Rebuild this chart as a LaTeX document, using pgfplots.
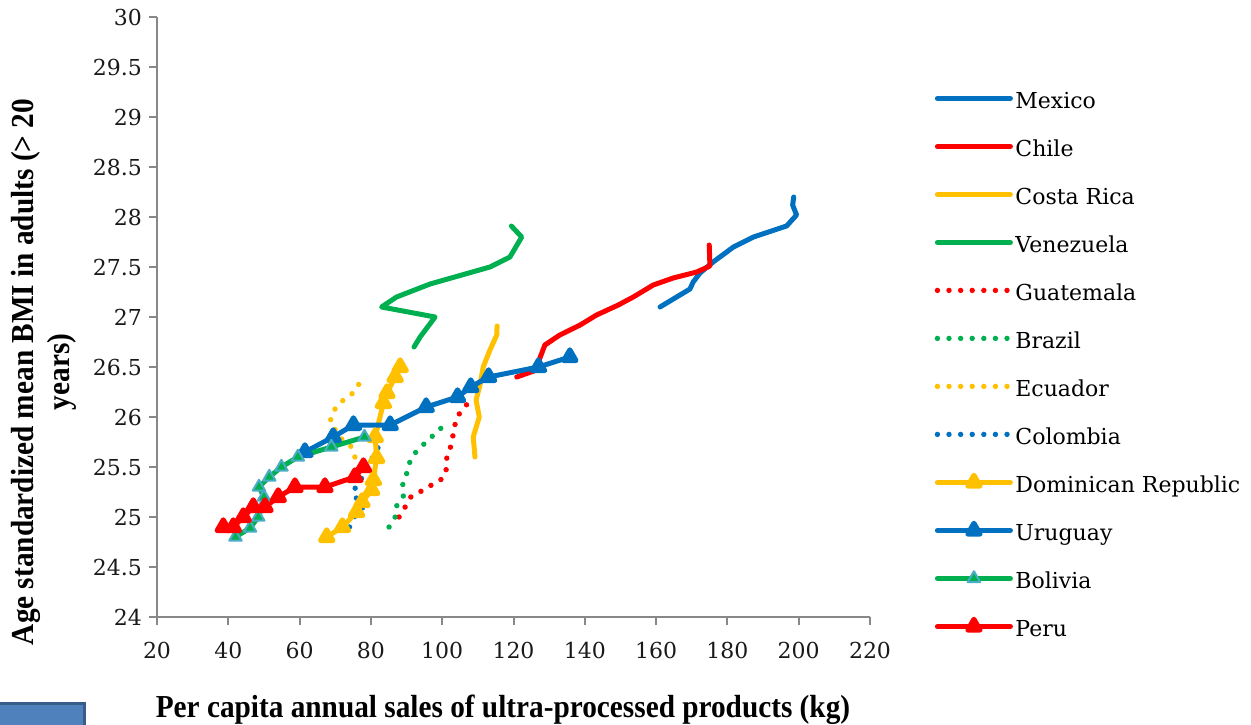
\documentclass[border=0pt]{standalone}
\usepackage{pgfplots}
\pgfplotsset{compat=1.18}
\usepackage{fontspec}
\setmainfont{DejaVu Serif}
\newfontfamily\labfont{Liberation Serif}[FakeStretch=0.915]
\definecolor{cblue}{HTML}{0070C0}
\definecolor{cred}{HTML}{FF0000}
\definecolor{cyel}{HTML}{FFC000}
\definecolor{cgreen}{HTML}{00B050}
\definecolor{cteal}{HTML}{4BACC6}
\definecolor{axgray}{HTML}{888888}
\definecolor{boxfill}{HTML}{4F81BD}
\definecolor{boxdraw}{HTML}{385D8A}
\pgfplotsset{
  solidline/.style={line width=2.5pt, line join=round, line cap=round, mark=none},
  dotline/.style={line width=2.7pt, line cap=round, dash pattern=on 0pt off 5.8pt, mark=none},
  triline/.style={line width=2.5pt, line join=round, line cap=round, mark=triangle*, mark size=3.6pt, mark options={solid, line width=0.4pt}},
}
\begin{document}
\begin{tikzpicture}
\useasboundingbox (-78.5pt,-53.5pt) rectangle (547pt,308.5pt);
\fill[boxfill] (-80pt,-56pt) rectangle (-36.5pt,-43pt);
\draw[boxdraw, line width=1.5pt] (-80pt,-43pt) -- (-36.5pt,-43pt) -- (-36.5pt,-56pt);
\begin{axis}[
  at={(0pt,0pt)}, anchor=south west,
  scale only axis, width=356.5pt, height=300pt,
  xmin=20, xmax=220, ymin=24, ymax=30,
  xtick={20,40,...,220}, ytick={24,24.5,...,30},
  axis x line*=bottom, axis y line*=left,
  axis line style={axgray, line width=1pt},
  tick style={axgray, line width=1pt},
  tick align=outside, major tick length=4pt,
  /pgf/number format/assume math mode=true,
  yticklabel style={font=\fontsize{11}{13}\selectfont, text=black!90},
  xticklabel style={font=\fontsize{11}{13}\selectfont, text=black!90, yshift=-5pt},
  clip=false,
  legend cell align=left,
  legend style={at={(1.094,0.875)}, anchor=north west, draw=none, fill=none,
    inner sep=0pt, row sep=13pt, column sep=0pt,
    font=\fontsize{11}{13}\selectfont,
    nodes={text height=8pt, text depth=3pt, inner sep=0pt}},
  legend image code/.code={\path[draw=none, fill=none, mark=none] (0pt,0pt) rectangle (39pt,5pt);
    \draw[overlay, mark repeat=2, mark phase=2, #1] plot coordinates {(0pt,2.5pt) (18.25pt,2.5pt) (36.5pt,2.5pt)};},
]
% Mexico
\addplot[solidline, cblue] coordinates {(161.1,27.10) (169.5,27.28) (170.4,27.35) (172.3,27.44) (176,27.55) (181.7,27.70) (187.3,27.80) (196.6,27.91) (199.4,28.02) (198.3,28.12) (198.6,28.2)};
\addlegendentry{Mexico}
% Chile
\addplot[solidline, cred] coordinates {(120.9,26.40) (126.5,26.47) (127.2,26.57) (128.8,26.72) (133,26.82) (138.7,26.92) (143.3,27.02) (149.4,27.12) (153.6,27.20) (159.2,27.32) (164.8,27.39) (171.4,27.45) (175.1,27.51) (174.9,27.72)};
\addlegendentry{Chile}
% Costa Rica
\addplot[solidline, cyel] coordinates {(109.2,25.60) (108.7,25.80) (110.4,26.0) (109.5,26.17) (110.6,26.32) (111.5,26.50) (113.4,26.67) (115.3,26.82) (115.4,26.91)};
\addlegendentry{Costa Rica}
% Venezuela
\addplot[solidline, cgreen] coordinates {(92.1,26.70) (93.8,26.80) (98,27.0) (83,27.10) (87.2,27.2) (96.6,27.33) (113.4,27.50) (119,27.60) (122.3,27.80) (119.4,27.91)};
\addlegendentry{Venezuela}
% Guatemala
\addplot[dotline, cred] coordinates {(87.9,25.0) (89.6,25.1) (91.2,25.2) (94.2,25.26) (97,25.32) (99.9,25.38) (101.1,25.45) (101.1,25.57) (102.2,25.68) (102.9,25.79) (103.4,25.9) (104.3,26.01) (106.4,26.1) (108.3,26.2)};
\addlegendentry{Guatemala}
% Brazil
\addplot[dotline, cgreen] coordinates {(85.1,24.90) (86.8,25.0) (87.2,25.11) (89.1,25.21) (88.9,25.32) (90,25.43) (90.8,25.54) (92.4,25.64) (94.6,25.72) (97,25.8) (99.4,25.88) (102,25.96)};
\addlegendentry{Brazil}
% Ecuador
\addplot[dotline, cyel] coordinates {(75.5,25.6) (74.6,25.7) (71.8,25.78) (68.5,25.95) (69.5,26.06) (71.5,26.15) (74.1,26.21) (76.2,26.29) (77.4,26.4)};
\addlegendentry{Ecuador}
% Colombia
\addplot[dotline, cblue] coordinates {(74,24.9) (75.3,25.0) (77.6,25.09) (74.9,25.25) (77.6,25.4) (79.1,25.5) (80.5,25.6) (82.1,25.7)};
\addlegendentry{Colombia}
% Dominican Republic
\addplot[triline, cyel, mark options={fill=cyel, draw=cyel}] coordinates {(67.6,24.8) (72,24.9) (76,25.05) (77.5,25.15) (80.2,25.27) (80.7,25.37) (81.6,25.59) (81.2,25.8) (83.5,26.14) (84.5,26.24) (86.8,26.4) (88.2,26.5)};
\addlegendentry{Dominican Republic}
% Uruguay
\addplot[triline, cblue, mark options={fill=cblue, draw=cblue}] coordinates {(61.5,25.65) (69.4,25.8) (75.1,25.92) (85.4,25.92) (95.5,26.1) (104.3,26.2) (108,26.3) (113,26.4) (127,26.5) (135.8,26.6)};
\addlegendentry{Uruguay}
% Bolivia
\addplot[triline, cgreen, mark options={fill=cgreen, draw=cteal, line width=1pt}] coordinates {(42,24.8) (46.1,24.89) (48.4,25.0) (49.5,25.1) (50,25.2) (48.6,25.3) (51.5,25.4) (54.9,25.5) (59.5,25.6) (68.9,25.7) (78.2,25.8)};
\addlegendentry{Bolivia}
% Peru
\addplot[triline, cred, mark options={fill=cred, draw=cred}] coordinates {(38.6,24.9) (41.4,24.9) (44.2,25.0) (47,25.1) (50.3,25.1) (54,25.2) (58.7,25.3) (67.1,25.3) (75.5,25.4) (77.9,25.5)};
\addlegendentry{Peru}
\end{axis}
\node[rotate=90, align=center, font=\labfont\bfseries\fontsize{16}{18}\selectfont] at (-56.75pt,122.5pt) {Age standardized mean BMI in adults (> 20\\years)};
\node[font=\labfont\bfseries\fontsize{16}{18}\selectfont] at (173pt,-46.5pt) {Per capita annual sales of ultra-processed products (kg)};
\end{tikzpicture}
\end{document}
